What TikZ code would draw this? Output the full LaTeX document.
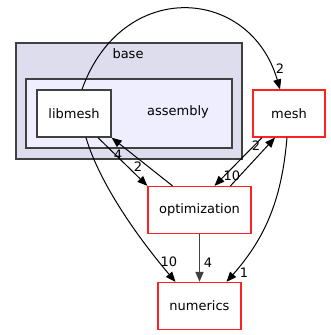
\documentclass[tikz,border=0pt]{standalone}
\usepackage{fontspec}
\setmainfont{DejaVu Sans}
\usetikzlibrary{arrows.meta}

\definecolor{basefill}{HTML}{DDDDEE}
\definecolor{asmfill}{HTML}{EEEEFF}
\definecolor{edgegray}{HTML}{404040}
\definecolor{dirred}{HTML}{FF2020}

\tikzset{
  dir/.style={draw=dirred, fill=white, line width=1.3pt, inner sep=0pt, minimum height=47pt},
  cluster/.style={draw=edgegray, line width=1.3pt},
  dep/.style={line width=1pt, -{Triangle[length=10pt,width=8pt]}},
  cnt/.style={inner sep=0pt, font=\fontsize{13}{15}\selectfont}
}

\begin{document}
\begin{tikzpicture}[x=1pt,y=-1pt,font=\fontsize{13}{15}\selectfont]
\useasboundingbox (0,0) rectangle (331,335);

% clusters
\draw[cluster, fill=basefill] (16,43) rectangle (242,159);
\node[inner sep=0pt] (base) at (128,54) {base};
\draw[cluster, fill=asmfill] (26,79) rectangle (232,148);
\node[inner sep=0pt] (assembly) at (178,112) {assembly};

% directories
\node[dir, draw=edgegray, minimum width=74pt] (libmesh) at (74,113.5) {libmesh};
\node[dir, minimum width=72pt] (mesh) at (289,113.5) {mesh};
\node[dir, minimum width=103pt] (optimization) at (199.5,210) {optimization};
\node[dir, minimum width=83pt] (numerics) at (199.5,306) {numerics};

% dependencies
\draw[dep] ([xshift=8pt]libmesh.north) .. controls (122,-22) and (250,-14) .. ([xshift=-9pt]mesh.north);
\draw[dep] ([xshift=24pt]libmesh.south) -- (optimization.north west);
\draw[dep] ([xshift=-27pt]optimization.north) -- (libmesh.south east);
\draw[dep] ([xshift=12pt]libmesh.south) .. controls (100,185) and (140,240) .. ([xshift=-24pt]numerics.north);
\draw[dep] ([xshift=-27pt]mesh.south) -- ([xshift=15pt]optimization.north);
\draw[dep] ([xshift=31pt]optimization.north) -- ([xshift=-14pt]mesh.south);
\draw[dep] ([xshift=-2pt]mesh.south) .. controls (282,195) and (268,235) .. ([xshift=27pt]numerics.north);
\draw[dep, draw=edgegray, fill=black, line width=1.8pt] (optimization) -- (numerics);

% counts
\node[cnt] (c1) at (280,69) {2};
\node[cnt] (c2) at (138,167) {2};
\node[cnt] (c3) at (118,155) {4};
\node[cnt] (c4) at (169,262) {10};
\node[cnt] (c5) at (208,263) {4};
\node[cnt] (c6) at (244,273) {1};
\node[cnt] (c7) at (232,176) {10};
\node[cnt] (c8) at (256,146) {2};
\end{tikzpicture}
\end{document}
